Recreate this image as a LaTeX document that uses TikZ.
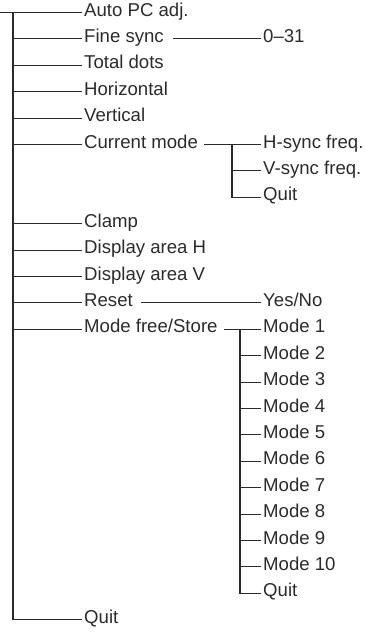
\documentclass[tikz,border=0pt]{standalone}
\usepackage{fontspec}
\setmainfont{Liberation Sans}
\definecolor{ink}{HTML}{2B2B2B}
\begin{document}
\begin{tikzpicture}[x=1pt,y=-1pt,
  lbl/.style={anchor=west, inner xsep=2pt, inner ysep=0pt, text height=0.7em, text depth=0pt,
    font=\fontsize{18.6}{21}\selectfont, text=ink},
  ln/.style={draw=ink, line width=1.1pt}]
\useasboundingbox (0,0) rectangle (365,633);
% main items
\node[lbl] (auto)  at (82,12.5)  {Auto PC adj.};
\node[lbl] (fine)  at (82,38.9)  {Fine sync};
\node[lbl] (total) at (82,65.3)  {Total dots};
\node[lbl] (hor)   at (82,91.7)  {Horizontal};
\node[lbl] (ver)   at (82,118.1) {Vertical};
\node[lbl] (cur)   at (82,144.5) {Current mode};
\node[lbl] (clamp) at (82,223.7) {Clamp};
\node[lbl] (dah)   at (82,250.1) {Display area H};
\node[lbl] (dav)   at (82,276.5) {Display area V};
\node[lbl] (reset) at (82,302.9) {Reset};
\node[lbl] (mfs)   at (82,329.3) {Mode free/Store};
\node[lbl] (quit)  at (82,619.7) {Quit};
% sub items
\node[lbl] (rng) at (261,38.9)  {0--31};
\node[lbl] (hs)  at (261,144.5) {H-sync freq.};
\node[lbl] (vs)  at (261,170.9) {V-sync freq.};
\node[lbl] (cq)  at (261,197.3) {Quit};
\node[lbl] (yn)  at (261,302.9) {Yes/No};
\foreach \k in {1,...,10}
  \node[lbl] (m\k) at (261,{329.3+26.4*(\k-1)}) {Mode \k};
\node[lbl] (mq) at (261,593.3) {Quit};
% trunk
\coordinate (top) at (0,12.5);
\coordinate (tr)  at (13,12.5);
\coordinate (trb) at (13,619.7);
\draw[ln] (top) -- (auto.west);
\draw[ln] (tr) -- (trb) -- (quit.west);
\foreach \n in {fine,total,hor,ver,cur,clamp,dah,dav,reset,mfs}
  \draw[ln] (tr |- \n.west) -- (\n.west);
% fine sync
\draw[ln] ([xshift=7pt]fine.east) -- (rng.west);
% current mode
\coordinate (ct) at (232,144.5);
\draw[ln] ([xshift=4pt]cur.east) -- (hs.west);
\draw[ln] (ct) -- (ct |- cq.west) -- (cq.west);
\draw[ln] (ct |- vs.west) -- (vs.west);
% reset
\draw[ln] ([xshift=6pt]reset.east) -- (yn.west);
% mode free/store
\coordinate (mt) at (240,329.3);
\draw[ln] ([xshift=4pt]mfs.east) -- (m1.west);
\draw[ln] (mt) -- (mt |- mq.west) -- (mq.west);
\foreach \k in {2,...,10}
  \draw[ln] (mt |- m\k.west) -- (m\k.west);
\end{tikzpicture}
\end{document}
